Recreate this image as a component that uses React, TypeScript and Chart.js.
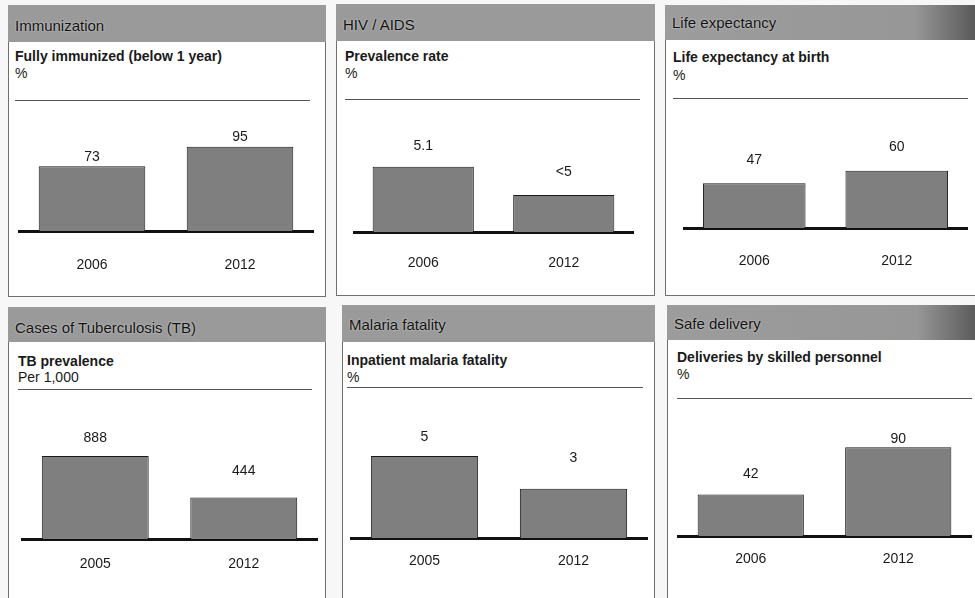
import React, { useEffect, useRef } from "react";
import { Chart, registerables } from "chart.js";

Chart.register(...registerables);

// ---------- data ----------
const immunizationYears = ["2006", "2012"];
const immunizationValues = [73, 95];
const immunizationLabels = ["73", "95"];

const hivYears = ["2006", "2012"];
const hivValues = [5.1, 2.9]; // 2012 printed as "<5"; height
const hivLabels = ["5.1", "<5"];

const lifeYears = ["2006", "2012"];
const lifeValues = [47, 60];
const lifeLabels = ["47", "60"];

const tbYears = ["2005", "2012"];
const tbValues = [888, 444];
const tbLabels = ["888", "444"];

const malariaYears = ["2005", "2012"];
const malariaValues = [5, 3];
const malariaLabels = ["5", "3"];

const deliveryYears = ["2006", "2012"];
const deliveryValues = [42, 90];
const deliveryLabels = ["42", "90"];

const headers = [
  "Immunization",
  "HIV / AIDS",
  "Life expectancy",
  "Cases of Tuberculosis (TB)",
  "Malaria fatality",
  "Safe delivery",
];
const subtitles = [
  "Fully immunized (below 1 year)",
  "Prevalence rate",
  "Life expectancy at birth",
  "TB prevalence",
  "Inpatient malaria fatality",
  "Deliveries by skilled personnel",
];
const units = ["%", "%", "%", "Per 1,000", "%", "%"];

// ---------- layout / style ----------
const FONT = "'Liberation Sans', Arial, Helvetica, sans-serif";
const TEXT = "#1a1a1a";
const BAR_FILL = "#7f7f7f";
const AXIS_H = 60;

const panels = [
  {
    years: immunizationYears, values: immunizationValues, labels: immunizationLabels,
    box: { x: 8, y: 5, w: 318, h: 292 }, headerH: 37, headerY: 26, subY: 56, unitY: 73,
    sep: { y: 100, x1: 15, x2: 310 }, base: { x1: 18, x2: 314, y: 231 }, chartTop: 105,
    yMax: 142, tickPad: 26, lift: [9, 10], dark: false,
  },
  {
    years: hivYears, values: hivValues, labels: hivLabels,
    box: { x: 336, y: 4, w: 319, h: 292 }, headerH: 37, headerY: 25, subY: 56, unitY: 73,
    sep: { y: 99, x1: 345, x2: 640 }, base: { x1: 353, x2: 634, y: 232 }, chartTop: 104,
    yMax: 10, tickPad: 23, lift: [21, 23], dark: false,
  },
  {
    years: lifeYears, values: lifeValues, labels: lifeLabels,
    box: { x: 665, y: 5, w: 320, h: 291 }, headerH: 35, headerY: 23, subY: 57, unitY: 75,
    sep: { y: 98, x1: 673, x2: 968 }, base: { x1: 683, x2: 968, y: 228 }, chartTop: 103,
    yMax: 131, tickPad: 25, lift: [23, 24], dark: true,
  },
  {
    years: tbYears, values: tbValues, labels: tbLabels,
    box: { x: 8, y: 307, w: 318, h: 300 }, headerH: 35, headerY: 328, subY: 361, unitY: 377,
    sep: { y: 389, x1: 18, x2: 312 }, base: { x1: 21, x2: 318, y: 539 }, chartTop: 394,
    yMax: 1550, tickPad: 17, lift: [18, 26], dark: false,
  },
  {
    years: malariaYears, values: malariaValues, labels: malariaLabels,
    box: { x: 342, y: 305, w: 313, h: 300 }, headerH: 37, headerY: 325, subY: 360, unitY: 377,
    sep: { y: 387, x1: 347, x2: 643 }, base: { x1: 350, x2: 648, y: 538 }, chartTop: 392,
    yMax: 8.9, tickPad: 15, lift: [19, 31], dark: false,
  },
  {
    years: deliveryYears, values: deliveryValues, labels: deliveryLabels,
    box: { x: 667, y: 305, w: 320, h: 300 }, headerH: 35, headerY: 324, subY: 357, unitY: 374,
    sep: { y: 398, x1: 677, x2: 972 }, base: { x1: 677, x2: 972, y: 536 }, chartTop: 403,
    yMax: 135, tickPad: 15, lift: [20, 8], dark: true,
  },
];

const valueLabelPlugin = {
  id: "valueLabels",
  afterDatasetsDraw(chart: any, _args: any, opts: any) {
    const ctx = chart.ctx;
    const meta = chart.getDatasetMeta(0);
    ctx.save();
    ctx.fillStyle = TEXT;
    ctx.font = `14px ${FONT}`;
    ctx.textAlign = "center";
    ctx.textBaseline = "middle";
    meta.data.forEach((bar: any, i: number) => {
      ctx.fillText(opts.labels[i], bar.x, bar.y - opts.lift[i]);
    });
    ctx.restore();
  },
};

function PanelChart({ p }: { p: any }) {
  const ref = useRef<HTMLCanvasElement | null>(null);
  const width = p.base.x2 - p.base.x1;
  const height = p.base.y - p.chartTop + AXIS_H;
  useEffect(() => {
    if (!ref.current) return;
    const chart = new Chart(ref.current, {
      type: "bar",
      data: {
        labels: p.years,
        datasets: [
          {
            data: p.values,
            backgroundColor: BAR_FILL,
            borderColor: "#1a1a1a",
            borderWidth: 1,
            borderSkipped: "start",
            barPercentage: 0.72,
            categoryPercentage: 1,
          },
        ],
      },
      options: {
        responsive: false,
        animation: false,
        devicePixelRatio: 1,
        layout: { padding: 0 },
        plugins: {
          legend: { display: false },
          tooltip: { enabled: false },
          valueLabels: { labels: p.labels, lift: p.lift },
        } as any,
        scales: {
          x: {
            grid: { display: false, drawTicks: false },
            border: { display: true, color: "#111", width: 3 },
            ticks: {
              color: TEXT,
              font: { family: FONT, size: 14 },
              padding: p.tickPad,
              maxRotation: 0,
            },
            afterFit: (s: any) => {
              s.height = AXIS_H;
            },
          },
          y: { display: false, min: 0, max: p.yMax },
        },
      },
      plugins: [valueLabelPlugin],
    } as any);
    return () => chart.destroy();
  }, []);
  return (
    <canvas
      ref={ref}
      width={width}
      height={height}
      style={{ position: "absolute", left: p.base.x1, top: p.chartTop, width, height }}
    />
  );
}

function Panel({ p, i }: { p: any; i: number }) {
  const headerBg = p.dark
    ? "linear-gradient(90deg, #9c9c9c 0%, #979797 78%, #505050 100%)"
    : "#9a9a9a";
  return (
    <>
      <div
        style={{
          position: "absolute",
          left: p.box.x,
          top: p.box.y,
          width: p.box.w,
          height: p.box.h,
          border: "1px solid #707070",
          background: "#fff",
          boxSizing: "border-box",
        }}
      />
      <div
        style={{
          position: "absolute",
          left: p.box.x,
          top: p.box.y,
          width: p.box.w,
          height: p.headerH,
          background: headerBg,
        }}
      />
      <div
        style={{
          position: "absolute",
          left: p.box.x + 7,
          top: p.headerY - 9,
          font: `15px ${FONT}`,
          lineHeight: "18px",
          color: "#111",
          textShadow: "0 0 2px #e0e0e0",
          whiteSpace: "nowrap",
        }}
      >
        {headers[i]}
      </div>
      <div
        style={{
          position: "absolute",
          left: p.sep.x1,
          top: p.subY - 8,
          font: `bold 14px ${FONT}`,
          lineHeight: "16px",
          color: TEXT,
          whiteSpace: "nowrap",
        }}
      >
        {subtitles[i]}
      </div>
      <div
        style={{
          position: "absolute",
          left: p.sep.x1,
          top: p.unitY - 8,
          font: `14px ${FONT}`,
          lineHeight: "16px",
          color: TEXT,
          whiteSpace: "nowrap",
        }}
      >
        {units[i]}
      </div>
      <div
        style={{
          position: "absolute",
          left: p.sep.x1,
          top: p.sep.y,
          width: p.sep.x2 - p.sep.x1,
          height: 1,
          background: "#555",
        }}
      />
      <PanelChart p={p} />
    </>
  );
}

export default function App() {
  return (
    <div
      style={{
        position: "absolute",
        left: 0,
        top: 0,
        width: 975,
        height: 598,
        overflow: "hidden",
        background: "#f7f7f7",
      }}
    >
      {panels.map((p, i) => (
        <Panel key={i} p={p} i={i} />
      ))}
    </div>
  );
}
